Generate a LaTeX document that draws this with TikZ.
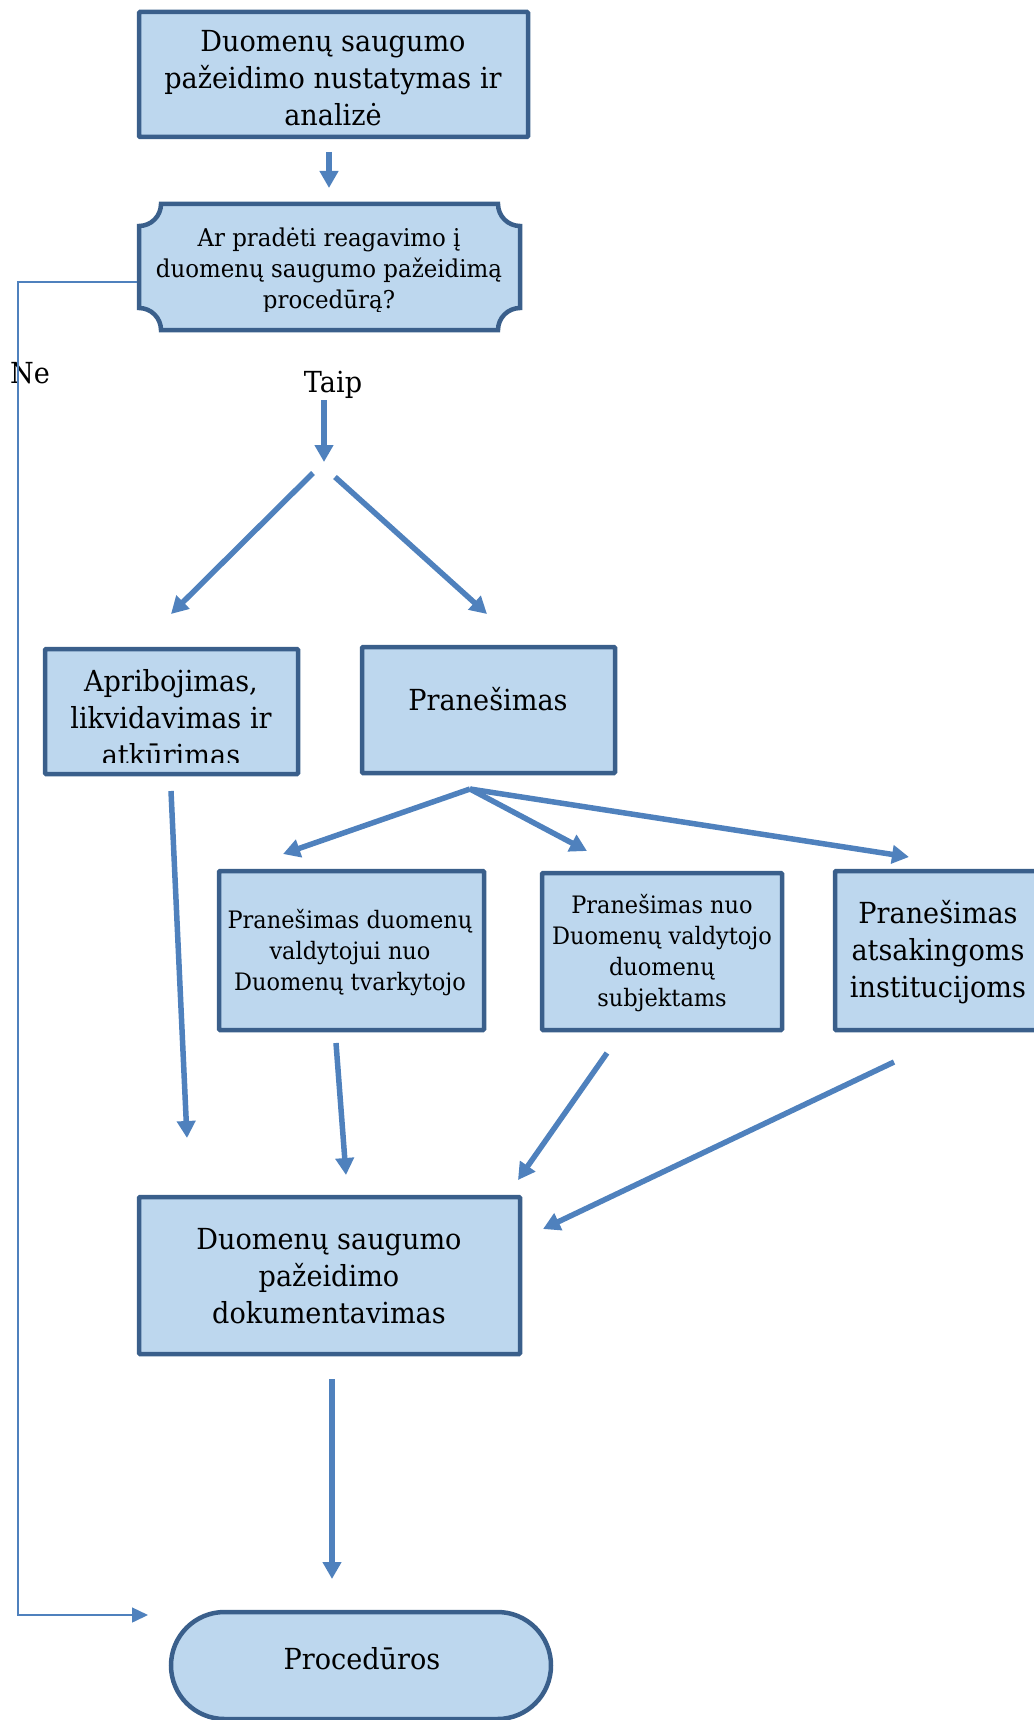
\documentclass[tikz,border=0pt]{standalone}
\usepackage{fontspec}
\setmainfont{DejaVu Serif}[FakeStretch=0.935]
\usetikzlibrary{arrows.meta,shapes.misc}
\definecolor{fillblue}{RGB}{189,215,238}
\definecolor{edgeblue}{RGB}{58,95,139}
\definecolor{arrowblue}{RGB}{79,129,189}
\begin{document}
\begin{tikzpicture}[x=1pt,y=-1pt,
  box/.style={draw=edgeblue, fill=fillblue, line width=4.5pt, rectangle, inner sep=0pt, rounded corners=1pt},
  plaque/.style={draw=edgeblue, fill=fillblue, line width=4.5pt},
  term/.style={draw=edgeblue, fill=fillblue, line width=4.5pt, rounded rectangle, inner sep=0pt},
  txt/.style={align=center, inner sep=0pt, text=black},
  big/.style={font=\fontsize{29}{37}\selectfont},
  mid/.style={font=\fontsize{24.5}{31}\selectfont},
  small/.style={font=\fontsize{24}{31}\selectfont},
  arr/.style={draw=arrowblue, line width=5.5pt, -{Triangle[length=17pt,width=18pt]}},
  thinarr/.style={draw=arrowblue, line width=1.5pt, -{Triangle[length=16pt,width=15pt]}}]
\useasboundingbox (0,0) rectangle (1033,1720);

% top box
\node[box, minimum width=389pt, minimum height=125pt] (b1) at (333.5,74.5) {};
\node[txt, big] (b1t) at (333,78) {Duomenų saugumo\\pažeidimo nustatymas ir\\analizė};

% decision plaque
\draw[plaque] (161,204) -- (498,204) .. controls (498,216.1) and (507.9,226) .. (520,226)
  -- (520,308) .. controls (507.9,308) and (498,317.9) .. (498,330)
  -- (161,330) .. controls (161,317.9) and (151.1,308) .. (139,308)
  -- (139,226) .. controls (151.1,226) and (161,216.1) .. (161,204) -- cycle;
\coordinate (dec) at (329.5,267);
\begin{scope}
  \clip (140,206) rectangle (519,311);
  \node[txt, mid] (dect) at (329,270.5) {Ar pradėti reagavimo į\\duomenų saugumo pažeidimą\\procedūrą?};
\end{scope}

% labels
\node[big, anchor=base, inner sep=0pt] (taip) at (333,392) {Taip};
\node[big, anchor=base, inner sep=0pt] (ne) at (30,383) {Ne};

% second level
\node[box, minimum width=253pt, minimum height=125pt] (apr) at (171.5,711.5) {};
\begin{scope}
  \clip (45,649) rectangle (298,762);
  \node[txt, big] (aprt) at (171,718) {Apribojimas,\\likvidavimas ir\\atkūrimas};
\end{scope}
\node[box, minimum width=253pt, minimum height=126pt] (pran) at (488.5,710) {};
\node[big, anchor=base, inner sep=0pt] (prant) at (488,710) {Pranešimas};

% third level
\node[box, minimum width=265pt, minimum height=159pt] (pa) at (351.5,950.5) {};
\node[txt, small] (pat) at (350,952.5) {Pranešimas duomenų\\valdytojui nuo\\Duomenų tvarkytojo};
\node[box, minimum width=240pt, minimum height=157pt] (pb) at (662,951.5) {};
\node[txt, small] (pbt) at (662,953.5) {Pranešimas nuo\\Duomenų valdytojo\\duomenų\\subjektams};
\node[box, minimum width=208pt, minimum height=159pt] (pc) at (939,950.5) {};
\node[txt, big] (pct) at (938,952) {Pranešimas\\atsakingoms\\institucijoms};

% documentation
\node[box, minimum width=381pt, minimum height=157pt] (dok) at (329.5,1275.5) {};
\node[txt, big] (dokt) at (329,1276) {Duomenų saugumo\\pažeidimo\\dokumentavimas};

% terminal
\node[term, minimum width=380pt, minimum height=107pt] (proc) at (361,1665.5) {};
\node[big, anchor=base, inner sep=0pt] (proct) at (362,1669) {Procedūros};

% arrow coordinates
\coordinate (a1s) at (329,152);   \coordinate (a1e) at (329,188);
\coordinate (a2s) at (324,400);   \coordinate (a2e) at (324,462);
\coordinate (a3s) at (313,473);   \coordinate (a3e) at (171,614);
\coordinate (a4s) at (335,477);   \coordinate (a4e) at (487,614);
\coordinate (br)  at (470,789);
\coordinate (a5e) at (283,854);
\coordinate (a6e) at (587,851);
\coordinate (a7e) at (909,857);
\coordinate (a8s) at (171,791);   \coordinate (a8e) at (187,1138);
\coordinate (a9s) at (336,1043);  \coordinate (a9e) at (346,1175);
\coordinate (a10s) at (607,1053); \coordinate (a10e) at (518,1180);
\coordinate (a11s) at (894,1062); \coordinate (a11e) at (543,1229);
\coordinate (a12s) at (332,1379); \coordinate (a12e) at (332,1579);
\coordinate (neS) at (137,282);   \coordinate (neA) at (18,282);
\coordinate (neB) at (18,1615);   \coordinate (neE) at (148,1615);

\draw[arr] (a1s) -- (a1e);
\draw[arr] (a2s) -- (a2e);
\draw[arr] (a3s) -- (a3e);
\draw[arr] (a4s) -- (a4e);
\draw[arr] (br) -- (a5e);
\draw[arr] (br) -- (a6e);
\draw[arr] (br) -- (a7e);
\draw[arr] (a8s) -- (a8e);
\draw[arr] (a9s) -- (a9e);
\draw[arr] (a10s) -- (a10e);
\draw[arr] (a11s) -- (a11e);
\draw[arr] (a12s) -- (a12e);
\draw[thinarr] (neS) -- (neA) -- (neB) -- (neE);
\end{tikzpicture}
\end{document}
